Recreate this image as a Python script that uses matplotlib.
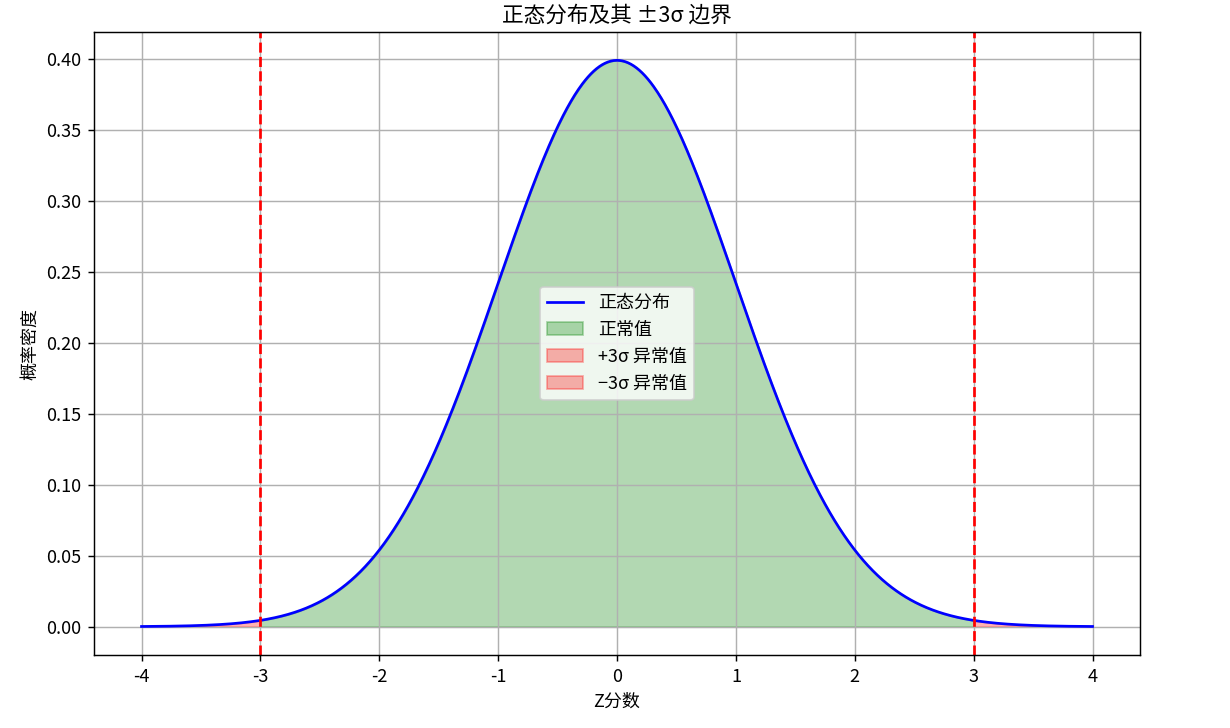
import numpy as np
import matplotlib
matplotlib.use('Agg')
import matplotlib.pyplot as plt

plt.rcParams['font.family'] = ['Noto Sans CJK SC', 'DejaVu Sans']
plt.rcParams['axes.unicode_minus'] = False

# distribution parameters
mu = 0.0
sigma = 1.0
x_range = [-4, 4]
n_points = 1000
bound = 3

title = '正态分布及其 ±3σ 边界'
x_label = 'Z分数'
y_label = '概率密度'
labels = ['正态分布', '正常值', '+3σ 异常值', '−3σ 异常值']

x = np.linspace(x_range[0], x_range[1], n_points)
y = np.exp(-0.5 * ((x - mu) / sigma) ** 2) / (sigma * np.sqrt(2 * np.pi))

dpi = 130
fig = plt.figure(figsize=(1230 / dpi, 728 / dpi), dpi=dpi)
ax = fig.add_axes([0.0764, 0.1003, 0.8505, 0.8557])

ax.plot(x, y, color='blue', label=labels[0])
ax.fill_between(x, y, where=(x >= -bound) & (x <= bound), color='green', alpha=0.3, label=labels[1])
ax.fill_between(x, y, where=(x >= bound), color='red', alpha=0.3, label=labels[2])
ax.fill_between(x, y, where=(x <= -bound), color='red', alpha=0.3, label=labels[3])
ax.axvline(bound, color='red', linestyle='--')
ax.axvline(-bound, color='red', linestyle='--')

ax.set_title(title)
ax.set_xlabel(x_label)
ax.set_ylabel(y_label)
ax.grid(True)
ax.legend(loc='center')

fig.savefig('out.png', dpi=dpi)
